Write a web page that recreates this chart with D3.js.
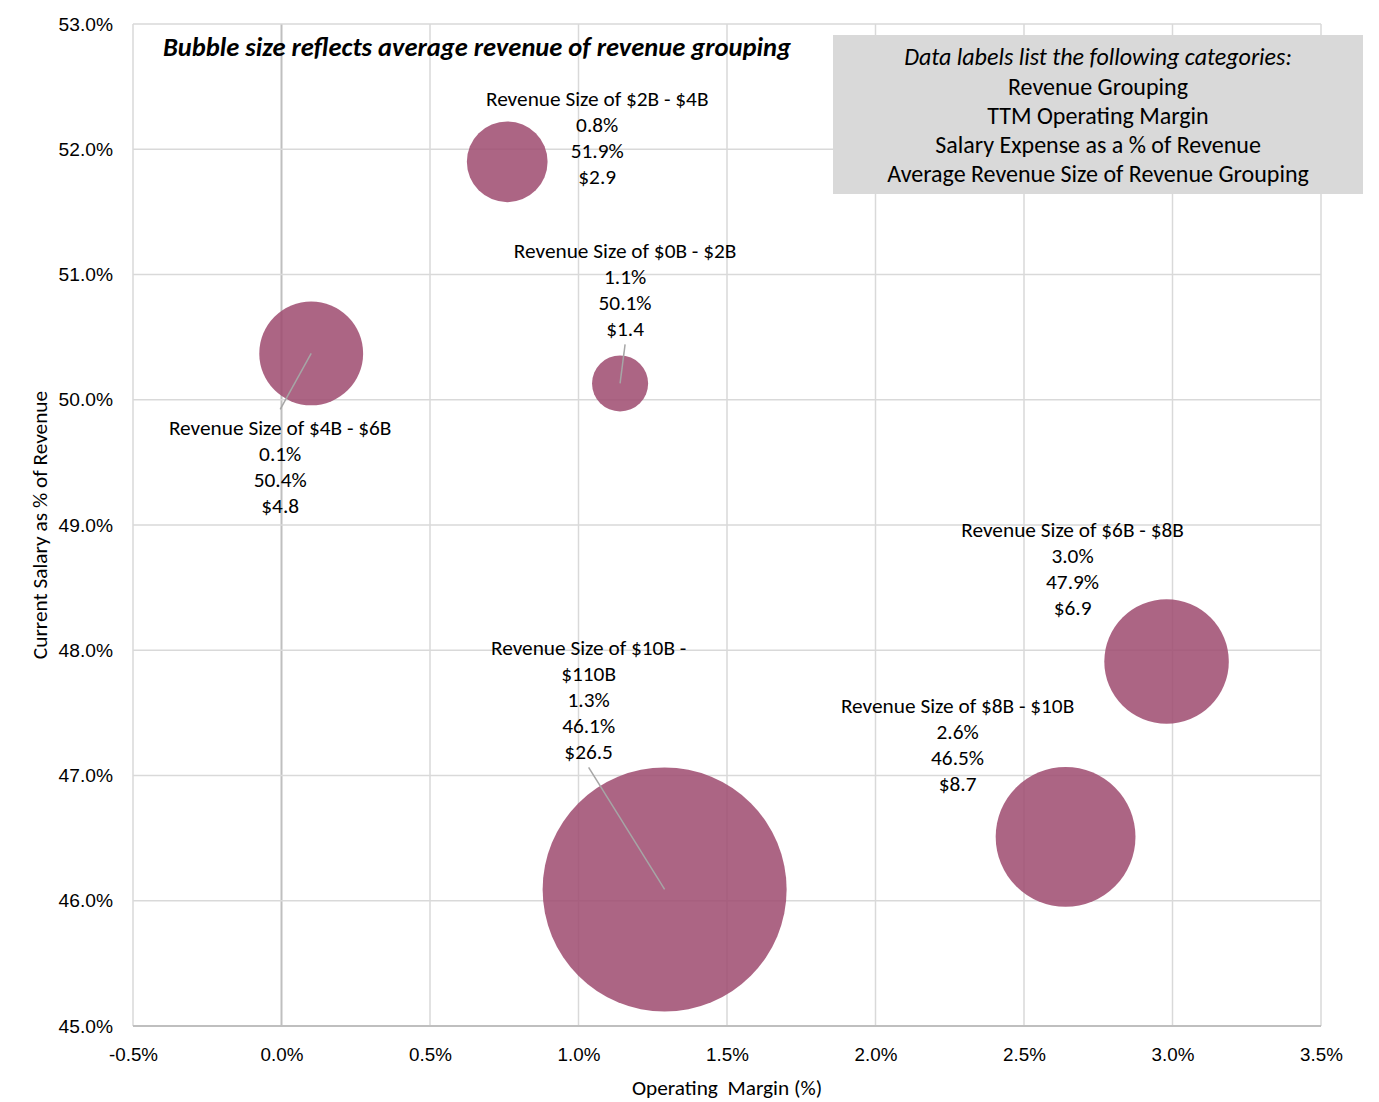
<!DOCTYPE html>
<html><head><meta charset="utf-8">
<script src="https://cdn.jsdelivr.net/npm/d3@7"></script>
<style>
html,body{margin:0;padding:0;background:#fff;}
svg{display:block;font-family:Calibri,Carlito,Lato,"Open Sans",sans-serif;}
</style></head>
<body><svg id="chart" width="1379" height="1102"></svg>
<script>
// ---- data ----
const groups = ["Revenue Size of $0B - $2B","Revenue Size of $2B - $4B","Revenue Size of $4B - $6B","Revenue Size of $6B - $8B","Revenue Size of $8B - $10B","Revenue Size of $10B - $110B"];
const labelLines = [["Revenue Size of $0B - $2B"],["Revenue Size of $2B - $4B"],["Revenue Size of $4B - $6B"],["Revenue Size of $6B - $8B"],["Revenue Size of $8B - $10B"],["Revenue Size of $10B -","$110B"]];
const operatingMargin = [1.14, 0.76, 0.10, 2.98, 2.64, 1.29];
const salaryPct = [50.13, 51.90, 50.37, 47.91, 46.51, 46.09];
const avgRevenue = [1.4, 2.9, 4.8, 6.9, 8.7, 26.5];
const xTicks = [-0.5, 0, 0.5, 1.0, 1.5, 2.0, 2.5, 3.0, 3.5];
const yTicks = [45, 46, 47, 48, 49, 50, 51, 52, 53];
const noteLines = ["Data labels list the following categories:","Revenue Grouping","TTM Operating Margin","Salary Expense as a % of Revenue","Average Revenue Size of Revenue Grouping"];
const titleText = "Bubble size reflects average revenue of revenue grouping";

// label layout (pixel offsets from bubble centre) and whether a leader line is drawn
const labelOffsets = [[5,-133,true],[90,-63,false],[-31,74,true],[-94,-132,false],[-108,-131,false],[-76,-242,true]];

const svg = d3.select("#chart");
const L = 133, R = 1321, T = 24, B = 1026;
const x = d3.scaleLinear().domain([-0.5, 3.5]).range([L, R]);
const y = d3.scaleLinear().domain([45, 53]).range([B, T]);
const r = d3.scaleSqrt().domain([0, 26.5]).range([0, 122]);

// grid
const grid = svg.append("g");
grid.selectAll(".vg").data(xTicks).join("line")
  .attr("x1", d => x(d)).attr("x2", d => x(d)).attr("y1", T).attr("y2", B)
  .attr("stroke", d => d === 0 ? "#bfbfbf" : "#d9d9d9").attr("stroke-width", d => d === 0 ? 2 : 1.5);
grid.selectAll(".hg").data(yTicks).join("line")
  .attr("x1", L).attr("x2", R).attr("y1", d => y(d)).attr("y2", d => y(d))
  .attr("stroke", d => d === 45 ? "#bfbfbf" : "#d9d9d9").attr("stroke-width", d => d === 45 ? 2 : 1.5);

// axes
const fmt = d => d.toFixed(1) + "%";
const xAxis = svg.append("g").attr("transform", `translate(0,${B})`)
  .call(d3.axisBottom(x).tickValues(xTicks).tickFormat(fmt).tickSize(0).tickPadding(22));
const yAxis = svg.append("g").attr("transform", `translate(${L},0)`)
  .call(d3.axisLeft(y).tickValues(yTicks).tickFormat(fmt).tickSize(0).tickPadding(20));
[xAxis, yAxis].forEach(a => {
  a.select(".domain").remove();
  a.selectAll("text").attr("fill", "#000").attr("font-family", null);
});
xAxis.selectAll("text").attr("font-size", 18.8).attr("dy", "0.71em");
yAxis.selectAll("text").attr("font-size", 19.2);

// axis titles
svg.append("text").attr("x", x(1.5)).attr("y", 1095).attr("text-anchor", "middle")
  .attr("font-size", 21.3).style("white-space", "pre").text("Operating  Margin (%)");
svg.append("text").attr("transform", `translate(47,${(T + B) / 2}) rotate(-90)`)
  .attr("text-anchor", "middle").attr("font-size", 21.3).text("Current Salary as % of Revenue");

// bubbles
const data = groups.map((g, i) => ({g, lines: labelLines[i], xm: operatingMargin[i], ys: salaryPct[i], rev: avgRevenue[i], off: labelOffsets[i]}));
const order = data.slice().sort((a, b) => b.rev - a.rev);
svg.append("g").selectAll("circle").data(order).join("circle")
  .attr("cx", d => x(d.xm)).attr("cy", d => y(d.ys)).attr("r", d => r(d.rev))
  .attr("fill", "#9e4a6f").attr("fill-opacity", 0.85);

// labels
const lab = svg.append("g");
data.forEach(d => {
  const cx = x(d.xm), cy = y(d.ys);
  const lx = cx + d.off[0], ly = cy + d.off[1];
  const lines = d.lines.concat([d.xm.toFixed(1) + "%", d.ys.toFixed(1) + "%", "$" + d.rev.toFixed(1)]);
  if (d.off[2]) {
    const above = d.off[1] < 0;
    const ey = above ? ly + (lines.length - 1) * 26 + 16 : ly - 18;
    lab.append("line").attr("x1", cx).attr("y1", cy).attr("x2", lx).attr("y2", ey)
      .attr("stroke", "#a6a6a6").attr("stroke-width", 1.5);
  }
  const t = lab.append("text").attr("text-anchor", "middle").attr("font-size", 21.3).attr("fill", "#000");
  lines.forEach((s, k) => t.append("tspan").attr("x", lx).attr("y", ly + k * 26).attr("dy", "0.35em").text(s));
});

// title
svg.append("text").attr("x", 163).attr("y", 47).attr("dy", "0.35em")
  .attr("font-size", 26.5).attr("font-weight", "bold").attr("font-style", "italic").text(titleText);

// note box
svg.append("rect").attr("x", 833).attr("y", 35).attr("width", 530).attr("height", 159).attr("fill", "#d9d9d9");
const nt = svg.append("text").attr("text-anchor", "middle").attr("font-size", 24);
noteLines.forEach((s, k) => nt.append("tspan").attr("x", 1098).attr("y", 57 + k * 29.2).attr("dy", "0.35em")
  .attr("font-style", k === 0 ? "italic" : null).text(s));
</script></body></html>
